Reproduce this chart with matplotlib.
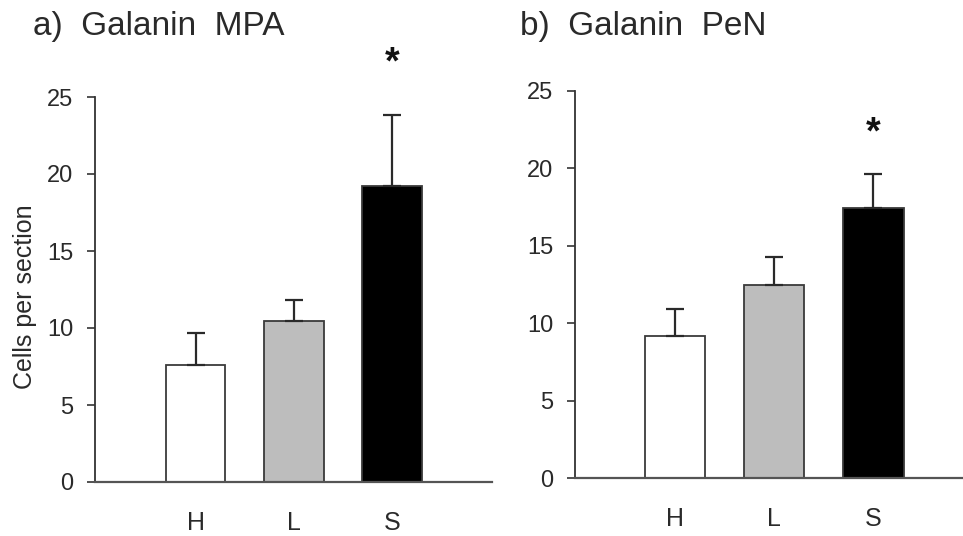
import matplotlib
matplotlib.use("Agg")
import matplotlib.pyplot as plt

groups = ["H", "L", "S"]
mpa_means = [7.6, 10.45, 19.25]
mpa_sem = [2.1, 1.35, 4.6]
pen_means = [9.2, 12.5, 17.45]
pen_sem = [1.7, 1.8, 2.2]
bar_colors = ["#ffffff", "#bdbdbd", "#000000"]
titles = ["a)  Galanin  MPA", "b)  Galanin  PeN"]
yticks = [0, 5, 10, 15, 20, 25]
star_y = [26.5, 21.6]

FONT = "Liberation Sans"
plt.rcParams["font.family"] = [FONT, "DejaVu Sans"]

fig = plt.figure(figsize=(9.63, 5.36), dpi=100)

axes_specs = [
    dict(rect=[95/963, 1-482/536, (492-95)/963, (482-97)/536], xlim=(-1.023, 3.018), width=0.61),
    dict(rect=[575/963, 1-478.3/536, (963-575)/963, (478.3-90.7)/536], xlim=(-1.008, 2.902), width=0.605),
]
datasets = [(mpa_means, mpa_sem), (pen_means, pen_sem)]
title_x = [33/963, 520/963]

for i, (spec, (means, sem)) in enumerate(zip(axes_specs, datasets)):
    ax = fig.add_axes(spec["rect"])
    x = list(range(len(groups)))
    ax.bar(x, means, width=spec["width"], color=bar_colors, edgecolor="#3a3a3a",
           linewidth=1.3, zorder=2)
    ax.errorbar(x, means, yerr=[[0]*len(sem), sem], fmt="none", ecolor="#2a2a2a",
                elinewidth=1.6, capsize=6.5, capthick=1.6, zorder=3)
    ax.set_xlim(*spec["xlim"])
    ax.set_ylim(0, 25)
    ax.set_yticks(yticks)
    ax.set_xticks(x)
    ax.set_xticklabels(groups)
    for s in ["top", "right"]:
        ax.spines[s].set_visible(False)
    ax.spines["left"].set_color("#333333")
    ax.spines["left"].set_linewidth(1.3)
    ax.spines["bottom"].set_color("#555555")
    ax.spines["bottom"].set_linewidth(1.6)
    ax.tick_params(axis="y", direction="out", length=5.8, width=1.2, color="#333333",
                   pad=10, labelsize=17, labelcolor="#2a2a2a")
    ax.tick_params(axis="x", length=0, pad=21, labelsize=18, labelcolor="#2a2a2a")
    ax.text(2, star_y[i], "*", ha="center", va="baseline", fontsize=27,
            fontweight="bold", color="#111111")
    fig.text(title_x[i], 1-35/536, titles[i], ha="left", va="baseline",
             fontsize=24, color="#2a2a2a")

fig.text(25/963, 1-297/536, "Cells per section", rotation=90, ha="center",
         va="center", fontsize=18, color="#2a2a2a")

fig.savefig("out.png", dpi=100)
